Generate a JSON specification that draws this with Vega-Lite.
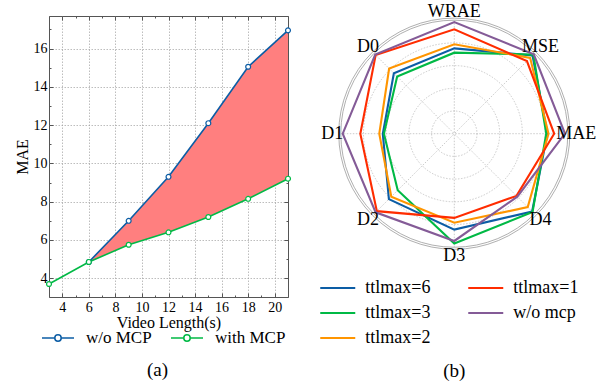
{
  "$schema": "https://vega.github.io/schema/vega-lite/v6.json",
  "padding": {"left": 13, "top": 2, "right": 0, "bottom": 0},
  "bounds": "flush",
  "spacing": 39.75,
  "background": "white",
  "resolve": {"scale": {"color": "independent", "size": "independent"}, "legend": {"color": "independent"}},
  "config": {
    "font": "Liberation Serif",
    "view": {"stroke": null},
    "axis": {"labelFont": "Liberation Serif", "titleFont": "Liberation Serif", "labelColor": "#000", "titleColor": "#000", "titleFontWeight": "normal"},
    "legend": {"labelFont": "Liberation Serif", "labelColor": "#000"},
    "title": {"font": "Liberation Serif", "fontWeight": "normal", "color": "#000"}
  },
  "hconcat": [
    {
      "width": 239,
      "height": 281,
      "view": {"stroke": "#555", "strokeWidth": 1},
      "title": {"text": "(a)", "orient": "bottom", "anchor": "middle", "fontSize": 19, "offset": 15, "dx": -11, "font": "Liberation Serif"},
      "data": {
        "values": [
          {"len": 6, "series": "w/o MCP", "mae": 4.85},
          {"len": 9, "series": "w/o MCP", "mae": 7.0},
          {"len": 12, "series": "w/o MCP", "mae": 9.3},
          {"len": 15, "series": "w/o MCP", "mae": 12.1},
          {"len": 18, "series": "w/o MCP", "mae": 15.05},
          {"len": 21, "series": "w/o MCP", "mae": 16.95},
          {"len": 3, "series": "with MCP", "mae": 3.7},
          {"len": 6, "series": "with MCP", "mae": 4.85},
          {"len": 9, "series": "with MCP", "mae": 5.75},
          {"len": 12, "series": "with MCP", "mae": 6.4},
          {"len": 15, "series": "with MCP", "mae": 7.2},
          {"len": 18, "series": "with MCP", "mae": 8.15},
          {"len": 21, "series": "with MCP", "mae": 9.2}
        ]
      },
      "layer": [
        {
          "transform": [
            {"pivot": "series", "value": "mae", "groupby": ["len"]},
            {"filter": "isValid(datum['w/o MCP'])"}
          ],
          "mark": {"type": "area", "color": "#ff7f7f", "opacity": 1},
          "encoding": {
            "x": {"field": "len", "type": "quantitative", "scale": {"domain": [3, 21], "nice": false, "zero": false},
              "axis": {"orient": "bottom", "values": [4, 6, 8, 10, 12, 14, 16, 18, 20], "grid": true, "gridColor": "#a0a0a0", "gridDash": [1.5, 1.5], "gridWidth": 0.7, "domain": false, "ticks": true, "tickSize": -4, "tickColor": "#555", "labelFont": "Liberation Serif", "labelFontSize": 14, "labelPadding": 7, "labelFlush": false, "labelOverlap": false, "title": "Video Length(s)", "titleFont": "Liberation Serif", "titleFontSize": 16, "titlePadding": 0}},
            "y": {"field": "w/o MCP", "type": "quantitative", "scale": {"domain": [3.02, 17.7], "nice": false, "zero": false},
              "axis": {"orient": "left", "values": [4, 6, 8, 10, 12, 14, 16], "grid": true, "gridColor": "#a0a0a0", "gridDash": [1.5, 1.5], "gridWidth": 0.7, "domain": false, "ticks": true, "tickSize": -4, "tickColor": "#555", "labelFont": "Liberation Serif", "labelFontSize": 14, "labelPadding": 6, "labelFlush": false, "labelOverlap": false, "title": "MAE", "titleFont": "Liberation Serif", "titleFontSize": 16, "titlePadding": 3}},
            "y2": {"field": "with MCP"}
          }
        },
        {
          "mark": {"type": "line", "strokeWidth": 1.6},
          "encoding": {
            "x": {"field": "len", "type": "quantitative", "axis": null},
            "y": {"field": "mae", "type": "quantitative", "axis": null},
            "color": {"field": "series", "type": "nominal", "scale": {"domain": ["w/o MCP", "with MCP"], "range": ["#0C5DA5", "#00B945"]},
              "legend": {"title": null, "orient": "bottom", "direction": "horizontal", "columns": 2, "symbolType": "M-2,0L-0.4,0M0.4,0L2,0M0.4,0A0.4,0.4,0,1,1,-0.4,0A0.4,0.4,0,1,1,0.4,0", "symbolSize": 256, "symbolStrokeWidth": 1.5, "symbolFillColor": "white", "labelFont": "Liberation Serif", "labelFontSize": 17, "labelOffset": 19, "columnPadding": 16, "offset": -1,
                "encode": {"labels": {"update": {"font": {"value": "Liberation Serif"}, "fontSize": {"value": 17}}}}}}
          }
        },
        {
          "mark": {"type": "point", "shape": "circle", "filled": false, "fill": "white", "fillOpacity": 1, "size": 24, "strokeWidth": 1.2, "opacity": 1},
          "encoding": {
            "x": {"field": "len", "type": "quantitative", "axis": null},
            "y": {"field": "mae", "type": "quantitative", "axis": null},
            "color": {"field": "series", "type": "nominal"}
          }
        },
        {
          "mark": {"type": "point", "opacity": 0},
          "encoding": {
            "x": {"field": "len", "type": "quantitative", "axis": {"orient": "top", "values": [4, 6, 8, 10, 12, 14, 16, 18, 20], "labels": false, "grid": false, "domain": false, "tickSize": -4, "tickColor": "#555", "title": null}},
            "y": {"field": "mae", "type": "quantitative", "axis": {"orient": "right", "values": [4, 6, 8, 10, 12, 14, 16], "labels": false, "grid": false, "domain": false, "tickSize": -4, "tickColor": "#555", "title": null}}
          }
        },
        {
          "mark": {"type": "point", "opacity": 0},
          "encoding": {
            "x": {"field": "len", "type": "quantitative", "axis": {"orient": "bottom", "values": [3, 5, 7, 9, 11, 13, 15, 17, 19, 21], "labels": false, "grid": false, "domain": false, "tickSize": -2, "tickColor": "#555", "title": null}},
            "y": {"field": "mae", "type": "quantitative", "axis": {"orient": "left", "values": [5, 7, 9, 11, 13, 15, 17], "labels": false, "grid": false, "domain": false, "tickSize": -2, "tickColor": "#555", "title": null}}
          }
        },
        {
          "mark": {"type": "point", "opacity": 0},
          "encoding": {
            "x": {"field": "len", "type": "quantitative", "axis": {"orient": "top", "values": [3, 5, 7, 9, 11, 13, 15, 17, 19, 21], "labels": false, "grid": false, "domain": false, "tickSize": -2, "tickColor": "#555", "title": null}},
            "y": {"field": "mae", "type": "quantitative", "axis": {"orient": "right", "values": [5, 7, 9, 11, 13, 15, 17], "labels": false, "grid": false, "domain": false, "tickSize": -2, "tickColor": "#555", "title": null}}
          }
        }
      ],
      "resolve": {"axis": {"x": "independent", "y": "independent"}}
    },
    {
      "width": 253.1,
      "height": 235.4,
      "view": {"stroke": null},
      "title": {"text": "(b)", "orient": "bottom", "anchor": "middle", "fontSize": 19, "offset": 15, "font": "Liberation Serif"},
      "data": {
        "values": [
          {"series": "ttlmax=6", "metric": "MAE", "value": 0.82},
          {"series": "ttlmax=6", "metric": "MSE", "value": 0.975},
          {"series": "ttlmax=6", "metric": "WRAE", "value": 0.752},
          {"series": "ttlmax=6", "metric": "D0", "value": 0.753},
          {"series": "ttlmax=6", "metric": "D1", "value": 0.63},
          {"series": "ttlmax=6", "metric": "D2", "value": 0.815},
          {"series": "ttlmax=6", "metric": "D3", "value": 0.845},
          {"series": "ttlmax=6", "metric": "D4", "value": 0.97},
          {"series": "ttlmax=3", "metric": "MAE", "value": 0.81},
          {"series": "ttlmax=3", "metric": "MSE", "value": 0.985},
          {"series": "ttlmax=3", "metric": "WRAE", "value": 0.714},
          {"series": "ttlmax=3", "metric": "D0", "value": 0.712},
          {"series": "ttlmax=3", "metric": "D1", "value": 0.62},
          {"series": "ttlmax=3", "metric": "D2", "value": 0.705},
          {"series": "ttlmax=3", "metric": "D3", "value": 0.967},
          {"series": "ttlmax=3", "metric": "D4", "value": 0.975},
          {"series": "ttlmax=2", "metric": "MAE", "value": 0.83},
          {"series": "ttlmax=2", "metric": "MSE", "value": 0.945},
          {"series": "ttlmax=2", "metric": "WRAE", "value": 0.788},
          {"series": "ttlmax=2", "metric": "D0", "value": 0.812},
          {"series": "ttlmax=2", "metric": "D1", "value": 0.661},
          {"series": "ttlmax=2", "metric": "D2", "value": 0.785},
          {"series": "ttlmax=2", "metric": "D3", "value": 0.784},
          {"series": "ttlmax=2", "metric": "D4", "value": 0.915},
          {"series": "ttlmax=1", "metric": "MAE", "value": 0.88},
          {"series": "ttlmax=1", "metric": "MSE", "value": 0.905},
          {"series": "ttlmax=1", "metric": "WRAE", "value": 0.92},
          {"series": "ttlmax=1", "metric": "D0", "value": 0.98},
          {"series": "ttlmax=1", "metric": "D1", "value": 0.828},
          {"series": "ttlmax=1", "metric": "D2", "value": 0.965},
          {"series": "ttlmax=1", "metric": "D3", "value": 0.742},
          {"series": "ttlmax=1", "metric": "D4", "value": 0.775},
          {"series": "w/o mcp", "metric": "MAE", "value": 0.975},
          {"series": "w/o mcp", "metric": "MSE", "value": 0.99},
          {"series": "w/o mcp", "metric": "WRAE", "value": 0.984},
          {"series": "w/o mcp", "metric": "D0", "value": 0.985},
          {"series": "w/o mcp", "metric": "D1", "value": 0.983},
          {"series": "w/o mcp", "metric": "D2", "value": 0.98},
          {"series": "w/o mcp", "metric": "D3", "value": 0.945},
          {"series": "w/o mcp", "metric": "D4", "value": 0.785}
        ]
      },
      "layer": [
        {
          "data": {"values": [{"ring": 0.2}, {"ring": 0.4}, {"ring": 0.6}, {"ring": 0.8}]},
          "mark": {"type": "point", "shape": "circle", "filled": false, "stroke": "#b5b5b5", "strokeWidth": 0.7, "strokeDash": [1.5, 1.5], "opacity": 1},
          "encoding": {
            "x": {"datum": 0, "type": "quantitative", "scale": {"domain": [-1.115, 1.115], "nice": false, "zero": false}, "axis": null},
            "y": {"datum": 0, "type": "quantitative", "scale": {"domain": [-1.037, 1.037], "nice": false, "zero": false}, "axis": null},
            "size": {"field": "ring", "type": "quantitative", "scale": {"type": "pow", "exponent": 2, "domain": [0, 1.115], "range": [0, 64062]}, "legend": null}
          }
        },
        {
          "data": {"values": [{"ring": 1.0}, {"ring": 1.018}]},
          "mark": {"type": "point", "shape": "circle", "filled": false, "stroke": "#9a9a9a", "strokeWidth": 0.8, "opacity": 1},
          "encoding": {
            "x": {"datum": 0, "type": "quantitative", "axis": null},
            "y": {"datum": 0, "type": "quantitative", "axis": null},
            "size": {"field": "ring", "type": "quantitative", "legend": null}
          }
        },
        {
          "data": {"values": [{"metric": "MAE"}, {"metric": "MSE"}, {"metric": "WRAE"}, {"metric": "D0"}, {"metric": "D1"}, {"metric": "D2"}, {"metric": "D3"}, {"metric": "D4"}]},
          "transform": [
            {"calculate": "indexof(['MAE','MSE','WRAE','D0','D1','D2','D3','D4'], datum.metric) * PI / 4", "as": "ang"},
            {"calculate": "cos(datum.ang)", "as": "ex"},
            {"calculate": "sin(datum.ang)", "as": "ey"}
          ],
          "mark": {"type": "rule", "stroke": "#b5b5b5", "strokeWidth": 0.7, "strokeDash": [1.5, 1.5]},
          "encoding": {
            "x": {"field": "ex", "type": "quantitative", "axis": null},
            "y": {"field": "ey", "type": "quantitative", "axis": null},
            "x2": {"datum": 0},
            "y2": {"datum": 0}
          }
        },
        {
          "transform": [
            {"calculate": "indexof(['MAE','MSE','WRAE','D0','D1','D2','D3','D4'], datum.metric)", "as": "idx"},
            {"calculate": "datum.value * cos(datum.idx * PI / 4)", "as": "px"},
            {"calculate": "datum.value * sin(datum.idx * PI / 4)", "as": "py"}
          ],
          "mark": {"type": "line", "interpolate": "linear-closed", "strokeWidth": 2.1},
          "encoding": {
            "x": {"field": "px", "type": "quantitative", "axis": null},
            "y": {"field": "py", "type": "quantitative", "axis": null},
            "order": {"field": "idx", "type": "quantitative"},
            "color": {"field": "series", "type": "nominal",
              "scale": {"domain": ["ttlmax=6", "ttlmax=1", "ttlmax=3", "w/o mcp", "ttlmax=2"], "range": ["#0C5DA5", "#FF2C00", "#00B945", "#845B97", "#FF9500"]},
              "legend": {"title": null, "orient": "bottom", "direction": "horizontal", "columns": 2, "symbolType": "M-2,0L2,0", "symbolSize": 306.25, "symbolStrokeWidth": 2, "labelFont": "Liberation Serif", "labelFontSize": 18, "labelOffset": 17.5, "columnPadding": 33, "rowPadding": 6, "offset": 25.5,
                "encode": {"labels": {"update": {"font": {"value": "Liberation Serif"}, "fontSize": {"value": 18}}}}}}
          }
        },
        {
          "data": {"values": [{"metric": "MAE"}, {"metric": "MSE"}, {"metric": "WRAE"}, {"metric": "D0"}, {"metric": "D1"}, {"metric": "D2"}, {"metric": "D3"}, {"metric": "D4"}]},
          "transform": [
            {"calculate": "indexof(['MAE','MSE','WRAE','D0','D1','D2','D3','D4'], datum.metric) * PI / 4", "as": "ang"},
            {"calculate": "1.075 * cos(datum.ang)", "as": "lx"},
            {"calculate": "1.075 * sin(datum.ang)", "as": "ly"}
          ],
          "mark": {"type": "text", "fontSize": 18, "align": "center", "baseline": "middle", "color": "#000", "font": "Liberation Serif"},
          "encoding": {
            "x": {"field": "lx", "type": "quantitative", "axis": null},
            "y": {"field": "ly", "type": "quantitative", "axis": null},
            "text": {"field": "metric"}
          }
        }
      ]
    }
  ]
}
